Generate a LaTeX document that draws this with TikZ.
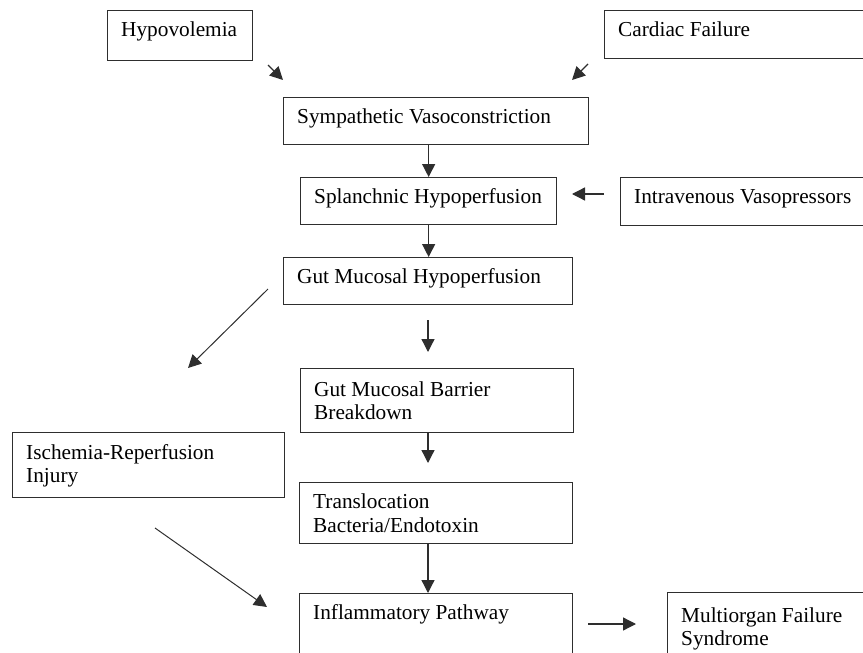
\documentclass[tikz,border=0pt]{standalone}
\usepackage{fontspec}
\setmainfont{Liberation Serif}
\usetikzlibrary{arrows.meta}
\definecolor{boxline}{HTML}{2E2E2E}

% \flowbox[baseline offset]{name}{x}{y}{width}{height}{text}
\newcommand\flowbox[7][26.5]{%
  \node[box, minimum width=#5pt, minimum height=#6pt] (#2) at (#3,#4) {};
  \node[boxtext] (#2-text) at ([xshift=14pt,yshift=-#1pt]#2.north west) {#7};
}

\begin{document}
\begin{tikzpicture}[x=1pt,y=-1pt,
  box/.style={draw=boxline, line width=1.3pt, rectangle, inner sep=0pt, anchor=north west},
  boxtext/.style={anchor=base west, inner sep=0pt, text width=262pt, align=flush left,
    font=\fontsize{21.3}{23.5}\selectfont, text=black},
  flow/.style={draw=boxline, line width=1.3pt, -{Triangle[length=13pt,width=13pt]}},
  thinflow/.style={flow, line width=1pt},
]
\useasboundingbox (0,0) rectangle (863,653);
\clip (0,0) rectangle (863,653);

% boxes
\flowbox{hypo}{107}{10}{145}{50}{Hypovolemia}
\flowbox{cardiac}{604}{10}{280}{48}{Cardiac Failure}
\flowbox{symp}{283}{97}{305}{47}{Sympathetic Vasoconstriction}
\flowbox[26]{splan}{300}{177}{256}{47}{Splanchnic Hypoperfusion}
\flowbox{iv}{620}{177}{260}{48}{Intravenous Vasopressors}
\flowbox{guthyp}{283}{257}{289}{47}{Gut Mucosal Hypoperfusion}
\flowbox[28]{barrier}{300}{368}{273}{64}{Gut Mucosal Barrier\\Breakdown}
\flowbox[27]{isch}{12}{432}{272}{65}{Ischemia-Reperfusion\\Injury}
\flowbox{trans}{299}{482}{273}{61}{Translocation\\Bacteria/Endotoxin}
\flowbox{inflam}{299}{593}{273}{80}{Inflammatory Pathway}
\flowbox[30]{multi}{667}{592}{230}{80}{Multiorgan Failure\\Syndrome}

% free arrow ends
\coordinate (hypoA) at (268,65);   \coordinate (hypoB) at (283,80);
\coordinate (cardA) at (588,64);   \coordinate (cardB) at (572,80);
\coordinate (ivA)   at (604,194);  \coordinate (ivB)   at (572,194);
\coordinate (gutA)  at (428,320);  \coordinate (gutB)  at (428,352);
\coordinate (diagA) at (268,289);  \coordinate (diagB) at (188,368);
\coordinate (barB)  at (428,463);
\coordinate (ischA) at (155,528);  \coordinate (ischB) at (267,607);
\coordinate (infA)  at (588,624);  \coordinate (infB)  at (636,624);

% connectors
\draw[flow] (hypoA) -- (hypoB);
\draw[flow] (cardA) -- (cardB);
\draw[flow] (symp.south -| splan.north) -- (splan.north);
\draw[flow] (ivA) -- (ivB);
\draw[flow] (splan.south) -- (splan.south |- guthyp.north);
\draw[flow] (gutA) -- (gutB);
\draw[thinflow] (diagA) -- (diagB);
\draw[flow] (barrier.south -| barB) -- (barB);
\draw[flow] (trans.south -| barB) -- (barB |- inflam.north);
\draw[thinflow] (ischA) -- (ischB);
\draw[flow] (infA) -- (infB);
\end{tikzpicture}
\end{document}
